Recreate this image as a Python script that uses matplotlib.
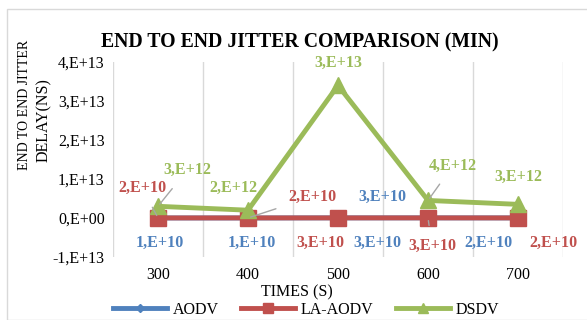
import matplotlib
matplotlib.use("Agg")
import matplotlib.pyplot as plt
from matplotlib.patches import Rectangle

plt.rcParams['font.family'] = ['Liberation Serif', 'DejaVu Serif']

times = [300, 400, 500, 600, 700]
aodv = [1e10, 1e10, 3e10, 3e10, 2e10]
la_aodv = [2e10, 2e10, 3e10, 3e10, 2e10]
dsdv = [3e12, 2e12, 3.4e13, 4.5e12, 3.5e12]

aodv_labels = ['1,E+10', '1,E+10', '3,E+10', '3,E+10', '2,E+10']
la_labels = ['2,E+10', '2,E+10', '3,E+10', '3,E+10', '2,E+10']
dsdv_labels = ['3,E+12', '2,E+12', '3,E+13', '4,E+12', '3,E+12']

yticks = [-1e13, 0, 1e13, 2e13, 3e13, 4e13]
ytick_labels = ['-1,E+13', '0,E+00', '1,E+13', '2,E+13', '3,E+13', '4,E+13']

blue = '#4F81BD'
red = '#C0504D'
green = '#9BBB59'
grid_c = '#D9D9D9'

fig = plt.figure(figsize=(5.87, 3.2), dpi=100)
ax = fig.add_axes([113 / 587, 1 - 257 / 320, 450 / 587, 195 / 320])

x = list(range(len(times)))
ax.plot(x, aodv, color=blue, lw=3.5, marker='D', ms=5, label='AODV', zorder=3)
ax.plot(x, la_aodv, color=red, lw=3.5, marker='s', ms=12, label='LA-AODV', zorder=4)
ax.plot(x, dsdv, color=green, lw=3.5, marker='^', ms=11, label='DSDV', zorder=5)

ax.set_xlim(-0.5, len(times) - 0.5)
ax.set_ylim(-1e13, 4e13)
ax.set_xticks(x)
ax.set_xticklabels([str(t) for t in times], fontsize=11.5)
ax.set_yticks(yticks)
ax.set_yticklabels(ytick_labels, fontsize=11.5)
for b in [i - 0.5 for i in range(len(times) + 1)]:
    ax.axvline(b, color=grid_c, lw=1, zorder=0)
for s in ax.spines.values():
    s.set_visible(False)
ax.tick_params(length=0, pad=6)
ax.tick_params(axis='x', pad=7)

# label offsets from the point, in pixels
aodv_off = [(2, -25), (4, -25), (39, -25), (-46, 21), (-30, -25)]
la_off = [(-16, 30), (64, 21), (-18, -25), (4, -28), (35, -25)]
dsdv_off = [(29, 36), (-15, 22), (0, 23), (25, 35), (0, 27)]
la_lead = [True, True, False, True, False]
dsdv_lead = [True, False, False, True, False]

def put_labels(vals, labels, offs, color, leads=None):
    for i, (v, t, o) in enumerate(zip(vals, labels, offs)):
        ap = None
        if leads and leads[i]:
            ap = dict(arrowstyle='-', color='#A6A6A6', lw=1, shrinkA=7, shrinkB=2)
        ax.annotate(t, (i, v), xytext=o, textcoords='offset pixels',
                    ha='center', va='center', fontsize=11.5, fontweight='bold',
                    color=color, arrowprops=ap, zorder=6)

put_labels(aodv, aodv_labels, aodv_off, blue)
put_labels(la_aodv, la_labels, la_off, red, la_lead)
put_labels(dsdv, dsdv_labels, dsdv_off, green, dsdv_lead)

fig.suptitle('END TO END JITTER COMPARISON (MIN)', x=300 / 587, y=1 - 42 / 320,
             va='center', fontsize=14.2, fontweight='bold')
fig.text(297 / 587, 1 - 292 / 320, 'TIMES (S)', ha='center', va='center', fontsize=11.5)
fig.text(25 / 587, 1 - 105 / 320, 'END TO END JITTER', rotation=90,
         ha='center', va='center', fontsize=10)
fig.text(44 / 587, 1 - 120 / 320, 'DELAY(NS)', rotation=90,
         ha='center', va='center', fontsize=11.5)

leg = fig.legend(loc='center', bbox_to_anchor=(306 / 587, 1 - 310 / 320), ncol=3,
                 frameon=False, fontsize=11.5, handlelength=3.4, columnspacing=1.4,
                 borderaxespad=0, handletextpad=0.35)
for h, ms in zip(leg.legend_handles, [4, 7.5, 7]):
    h.set_markersize(ms)

fig.patches.append(Rectangle((7 / 587, 0), 1, 1 - 9 / 320, transform=fig.transFigure,
                             fill=False, edgecolor=grid_c, lw=1))

fig.savefig('out.png', dpi=100)
